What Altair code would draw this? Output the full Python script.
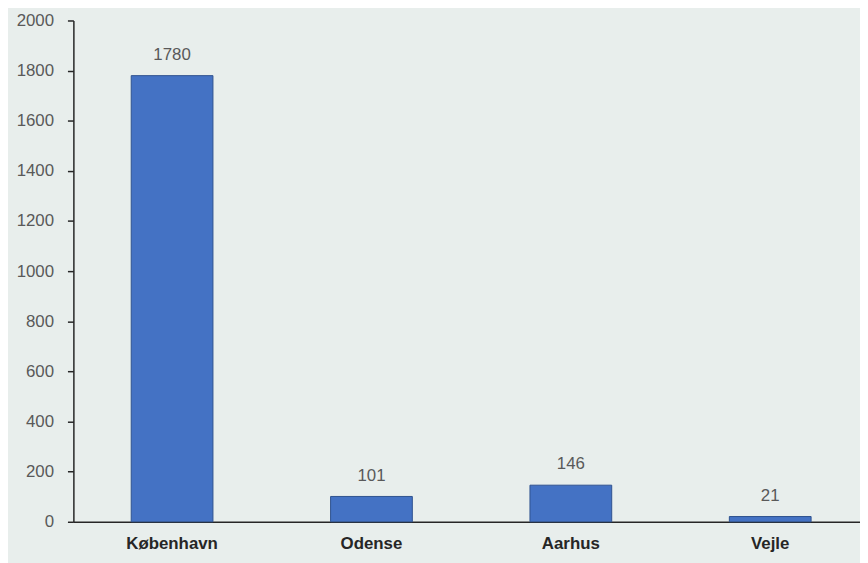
import altair as alt
import pandas as pd

cities = ["København", "Odense", "Aarhus", "Vejle"]
values = [1780, 101, 146, 21]
y_ticks = [0, 200, 400, 600, 800, 1000, 1200, 1400, 1600, 1800, 2000]

df = pd.DataFrame({"city": cities, "value": values})

FONT = "Liberation Sans"

base = alt.Chart(df).encode(
    x=alt.X(
        "city:N",
        sort=cities,
        scale=alt.Scale(range=[0, 803], paddingInner=0.59, paddingOuter=0.29),
        axis=alt.Axis(
            title=None, labelAngle=0, ticks=False, labelFont=FONT, labelFontSize=17,
            labelFontWeight="bold", labelColor="#262626", labelPadding=14,
            domainColor="#262626", domainWidth=1.5,
        ),
    ),
    y=alt.Y(
        "value:Q",
        scale=alt.Scale(domain=[0, 2000], nice=False),
        axis=alt.Axis(
            title=None, values=y_ticks, format="d", grid=False, tickSize=6, tickColor="#262626",
            tickWidth=1.5, domainColor="#262626", domainWidth=1.5, labelFont=FONT,
            labelFontSize=17, labelColor="#595959", labelPadding=14,
        ),
    ),
)

bars = base.mark_bar(color="#4472C4", stroke="#2F528F", strokeWidth=1)
text = base.mark_text(baseline="bottom", dy=-12, fontSize=17, font=FONT, color="#595959").encode(
    text="value:Q"
)

chart = (
    (bars + text)
    .properties(
        width=794,
        height=506,
        background="#E8EEEC",
        padding={"left": 66, "top": 10, "right": 0, "bottom": 39},
        autosize=alt.AutoSizeParams(type="none"),
    )
    .configure_view(stroke=None)
)

chart.save("out.html", embed_options={"renderer": "svg", "actions": False})
